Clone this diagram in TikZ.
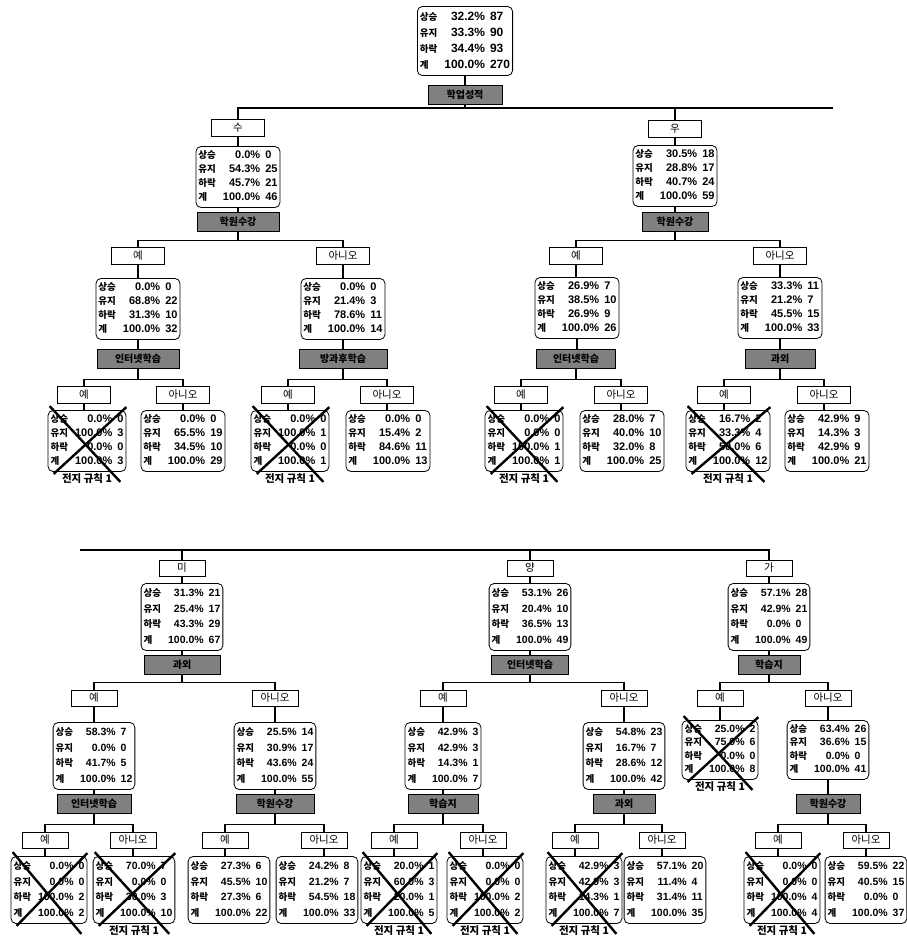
\documentclass[tikz,border=0pt]{standalone}
\usepackage{fontspec}
\setmainfont{Liberation Sans}
\newfontfamily\kr{Noto Sans CJK KR}
\usetikzlibrary{calc, positioning}

\newcommand{\kl}[1]{{\kr\fontsize{9.5}{10}\selectfont #1}}
\newcommand{\stats}[7]{%
  \begin{tabular}{@{}l@{\hspace{7pt}}r@{\hspace{5pt}}l@{}}
    \kl{상승} & #1\% & #2\\
    \kl{유지} & #3\% & #4\\
    \kl{하락} & #5\% & #6\\
    \kl{계} & 100.0\% & #7
  \end{tabular}}
% X over a pruned leaf
\newcommand{\crossleaf}[1]{%
  \draw[xl] ($(#1.north west)+(2,-4)$) -- ($(#1.south east)+(-6,10)$);
  \draw[xl] ($(#1.south west)+(6,2)$) -- ($(#1.north east)+(0,-3)$);}
% bus from a split node to its two children
\newcommand{\branch}[3]{%
  \draw[ln] (#2.north) -- ++(0,-7) coordinate (bus) -| (#3.north);
  \draw[ln] (#1.south) -- (#1.south |- bus);}
\newcommand{\link}[2]{\draw[ln] (#1.south) -- (#1.south |- #2.north);}

\begin{document}
\begin{tikzpicture}[x=1pt, y=-1pt,
  lab/.style={draw, line width=0.8pt, minimum width=53pt, minimum height=17pt, inner sep=0pt, font=\kr\fontsize{10.5}{12}\selectfont},
  stat/.style={draw, line width=0.8pt, rounded corners=5pt, inner sep=2.5pt, font=\fontsize{11}{14}\selectfont\bfseries},
  spl/.style={draw, line width=0.8pt, fill=black!50, text=black, minimum height=19pt, inner sep=0pt, font=\kr\fontsize{10}{12}\selectfont\bfseries},
  rule/.style={inner sep=0pt, font=\kr\fontsize{10.5}{12}\selectfont\bfseries},
  ln/.style={line width=1.1pt},
  xl/.style={line width=2.4pt}
]
  \fill[white] (0,0) rectangle (906,937);
  \useasboundingbox (0,0) rectangle (906,937);

  % ---------- upper half ----------
  \node[stat, font=\fontsize{12}{16}\selectfont\bfseries] (rn) at (465,41) {\stats{32.2}{87}{33.3}{90}{34.4}{93}{270}};
  \node[spl, minimum width=74pt] (rd) at (465,95) {학업성적};
  \link{rn}{rd}

  \node[lab] (Al) at (238,128) {수};
  \node[stat] (An) at (238,177) {\stats{0.0}{0}{54.3}{25}{45.7}{21}{46}};
  \node[spl, minimum width=82pt] (Ad) at (238,222) {학원수강};
  \node[lab] (Bl) at (675,129) {우};
  \node[stat] (Bn) at (675,176) {\stats{30.5}{18}{28.8}{17}{40.7}{24}{59}};
  \node[spl, minimum width=66pt] (Bd) at (675,222) {학원수강};
  \coordinate (rt) at (833,108);
  \draw[ln] (Al.north) |- (rt);
  \draw[ln] (Bl.north) -- (Bl.north |- rt);
  \draw[ln] (rd.south) -- (rd.south |- rt);
  \link{Al}{An} \link{An}{Ad} \link{Bl}{Bn} \link{Bn}{Bd}

  % under 수
  \node[lab] (AYl) at (138,256) {예};
  \node[stat] (AYn) at (138,309) {\stats{0.0}{0}{68.8}{22}{31.3}{10}{32}};
  \node[spl, minimum width=82pt] (AYd) at (138,359) {인터넷학습};
  \node[lab] (ANl) at (343,256) {아니오};
  \node[stat] (ANn) at (343,309) {\stats{0.0}{0}{21.4}{3}{78.6}{11}{14}};
  \node[spl, minimum width=88pt] (ANd) at (343,359) {방과후학습};
  \branch{Ad}{AYl}{ANl}
  \link{AYl}{AYn} \link{AYn}{AYd} \link{ANl}{ANn} \link{ANn}{ANd}

  \node[lab] (AYYl) at (84,395) {예};
  \node[stat] (AYYn) at (87,441) {\stats{0.0}{0}{100.0}{3}{0.0}{0}{3}};
  \node[lab] (AYNl) at (183,395) {아니오};
  \node[stat] (AYNn) at (183,441) {\stats{0.0}{0}{65.5}{19}{34.5}{10}{29}};
  \node[lab] (ANYl) at (288,395) {예};
  \node[stat] (ANYn) at (290,441) {\stats{0.0}{0}{100.0}{1}{0.0}{0}{1}};
  \node[lab] (ANNl) at (387,395) {아니오};
  \node[stat] (ANNn) at (388,441) {\stats{0.0}{0}{15.4}{2}{84.6}{11}{13}};
  \branch{AYd}{AYYl}{AYNl} \branch{ANd}{ANYl}{ANNl}
  \link{AYYl}{AYYn} \link{AYNl}{AYNn} \link{ANYl}{ANYn} \link{ANNl}{ANNn}
  \crossleaf{AYYn} \crossleaf{ANYn}
  \node[rule, below=2pt of AYYn] (AYYr) {전지 규칙 1};
  \node[rule, below=2pt of ANYn] (ANYr) {전지 규칙 1};

  % under 우
  \node[lab] (BYl) at (576,256) {예};
  \node[stat] (BYn) at (577,308) {\stats{26.9}{7}{38.5}{10}{26.9}{9}{26}};
  \node[spl, minimum width=79pt] (BYd) at (576,359) {인터넷학습};
  \node[lab] (BNl) at (780,256) {아니오};
  \node[stat] (BNn) at (780,308) {\stats{33.3}{11}{21.2}{7}{45.5}{15}{33}};
  \node[spl, minimum width=70pt] (BNd) at (780,359) {과외};
  \branch{Bd}{BYl}{BNl}
  \link{BYl}{BYn} \link{BYn}{BYd} \link{BNl}{BNn} \link{BNn}{BNd}

  \node[lab] (BYYl) at (521,395) {예};
  \node[stat] (BYYn) at (524,441) {\stats{0.0}{0}{0.0}{0}{100.0}{1}{1}};
  \node[lab] (BYNl) at (621,395) {아니오};
  \node[stat] (BYNn) at (622,441) {\stats{28.0}{7}{40.0}{10}{32.0}{8}{25}};
  \node[lab] (BNYl) at (724,395) {예};
  \node[stat] (BNYn) at (728,441) {\stats{16.7}{2}{33.3}{4}{50.0}{6}{12}};
  \node[lab] (BNNl) at (824,395) {아니오};
  \node[stat] (BNNn) at (827,441) {\stats{42.9}{9}{14.3}{3}{42.9}{9}{21}};
  \branch{BYd}{BYYl}{BYNl} \branch{BNd}{BNYl}{BNNl}
  \link{BYYl}{BYYn} \link{BYNl}{BYNn} \link{BNYl}{BNYn} \link{BNNl}{BNNn}
  \crossleaf{BYYn} \crossleaf{BNYn}
  \node[rule, below=2pt of BYYn] (BYYr) {전지 규칙 1};
  \node[rule, below=2pt of BNYn] (BNYr) {전지 규칙 1};

  % ---------- lower half ----------
  \begin{scope}[lab/.append style={minimum width=46pt, minimum height=16pt},
                stat/.append style={font=\fontsize{10.5}{15.5}\selectfont\bfseries}]
  \node[lab] (Cl) at (182,568) {미};
  \node[stat] (Cn) at (182,617) {\stats{31.3}{21}{25.4}{17}{43.3}{29}{67}};
  \node[spl, minimum width=76pt] (Cd) at (182,665) {과외};
  \node[lab] (Dl) at (530,568) {양};
  \node[stat] (Dn) at (530,617) {\stats{53.1}{26}{20.4}{10}{36.5}{13}{49}};
  \node[spl, minimum width=77pt] (Dd) at (530,665) {인터넷학습};
  \node[lab] (El) at (769,568) {가};
  \node[stat] (En) at (769,617) {\stats{57.1}{28}{42.9}{21}{0.0}{0}{49}};
  \node[spl, minimum width=62pt] (Ed) at (769,665) {학습지};
  \coordinate (lt) at (80,550);
  \draw[ln] (lt) -| (El.north);
  \draw[ln] (Cl.north) -- (Cl.north |- lt);
  \draw[ln] (Dl.north) -- (Dl.north |- lt);
  \link{Cl}{Cn} \link{Cn}{Cd} \link{Dl}{Dn} \link{Dn}{Dd} \link{El}{En} \link{En}{Ed}

  % under 미
  \node[lab] (CYl) at (94,698) {예};
  \node[stat] (CYn) at (94,756) {\stats{58.3}{7}{0.0}{0}{41.7}{5}{12}};
  \node[spl, minimum width=74pt] (CYd) at (94,804) {인터넷학습};
  \node[lab] (CNl) at (275,698) {아니오};
  \node[stat] (CNn) at (275,756) {\stats{25.5}{14}{30.9}{17}{43.6}{24}{55}};
  \node[spl, minimum width=78pt] (CNd) at (275,804) {학원수강};
  \branch{Cd}{CYl}{CNl}
  \link{CYl}{CYn} \link{CYn}{CYd} \link{CNl}{CNn} \link{CNn}{CNd}

  \node[lab] (CYYl) at (45,840) {예};
  \node[stat] (CYYn) at (49,890) {\stats{0.0}{0}{0.0}{0}{100.0}{2}{2}};
  \node[lab] (CYNl) at (133,840) {아니오};
  \node[stat] (CYNn) at (134,890) {\stats{70.0}{7}{0.0}{0}{30.0}{3}{10}};
  \node[lab] (CNYl) at (225,840) {예};
  \node[stat] (CNYn) at (229,890) {\stats{27.3}{6}{45.5}{10}{27.3}{6}{22}};
  \node[lab] (CNNl) at (324,840) {아니오};
  \node[stat] (CNNn) at (317,890) {\stats{24.2}{8}{21.2}{7}{54.5}{18}{33}};
  \branch{CYd}{CYYl}{CYNl} \branch{CNd}{CNYl}{CNNl}
  \link{CYYl}{CYYn} \link{CYNl}{CYNn} \link{CNYl}{CNYn} \link{CNNl}{CNNn}
  \crossleaf{CYYn} \crossleaf{CYNn}
  \node[rule, below=2pt of CYNn] (CYNr) {전지 규칙 1};

  % under 양
  \node[lab] (DYl) at (443,698) {예};
  \node[stat] (DYn) at (443,756) {\stats{42.9}{3}{42.9}{3}{14.3}{1}{7}};
  \node[spl, minimum width=70pt] (DYd) at (443,804) {학습지};
  \node[lab] (DNl) at (624,698) {아니오};
  \node[stat] (DNn) at (624,756) {\stats{54.8}{23}{16.7}{7}{28.6}{12}{42}};
  \node[spl, minimum width=62pt] (DNd) at (624,804) {과외};
  \branch{Dd}{DYl}{DNl}
  \link{DYl}{DYn} \link{DYn}{DYd} \link{DNl}{DNn} \link{DNn}{DNd}

  \node[lab] (DYYl) at (394,840) {예};
  \node[stat] (DYYn) at (399,890) {\stats{20.0}{1}{60.0}{3}{20.0}{1}{5}};
  \node[lab] (DYNl) at (483,840) {아니오};
  \node[stat] (DYNn) at (485,890) {\stats{0.0}{0}{0.0}{0}{100.0}{2}{2}};
  \node[lab] (DNYl) at (575,840) {예};
  \node[stat] (DNYn) at (584,890) {\stats{42.9}{3}{42.9}{3}{14.3}{1}{7}};
  \node[lab] (DNNl) at (662,840) {아니오};
  \node[stat] (DNNn) at (665,890) {\stats{57.1}{20}{11.4}{4}{31.4}{11}{35}};
  \branch{DYd}{DYYl}{DYNl} \branch{DNd}{DNYl}{DNNl}
  \link{DYYl}{DYYn} \link{DYNl}{DYNn} \link{DNYl}{DNYn} \link{DNNl}{DNNn}
  \crossleaf{DYYn} \crossleaf{DYNn} \crossleaf{DNYn}
  \node[rule, below=2pt of DYYn] (DYYr) {전지 규칙 1};
  \node[rule, below=2pt of DYNn] (DYNr) {전지 규칙 1};
  \node[rule, below=2pt of DNYn] (DNYr) {전지 규칙 1};

  % under 가
  \node[lab] (EYl) at (720,698) {예};
  \node[stat, font=\fontsize{10.5}{13.5}\selectfont\bfseries] (EYn) at (720,750) {\stats{25.0}{2}{75.0}{6}{0.0}{0}{8}};
  \node[lab] (ENl) at (828,698) {아니오};
  \node[stat, font=\fontsize{10.5}{13.5}\selectfont\bfseries] (ENn) at (828,750) {\stats{63.4}{26}{36.6}{15}{0.0}{0}{41}};
  \node[spl, minimum width=64pt] (ENd) at (828,804) {학원수강};
  \branch{Ed}{EYl}{ENl}
  \link{EYl}{EYn} \link{ENl}{ENn} \link{ENn}{ENd}
  \crossleaf{EYn}
  \node[rule, below=2pt of EYn] (EYr) {전지 규칙 1};

  \node[lab] (ENYl) at (778,840) {예};
  \node[stat] (ENYn) at (782,890) {\stats{0.0}{0}{0.0}{0}{100.0}{4}{4}};
  \node[lab] (ENNl) at (866,840) {아니오};
  \node[stat] (ENNn) at (866,890) {\stats{59.5}{22}{40.5}{15}{0.0}{0}{37}};
  \branch{ENd}{ENYl}{ENNl}
  \link{ENYl}{ENYn} \link{ENNl}{ENNn}
  \crossleaf{ENYn}
  \node[rule, below=2pt of ENYn] (ENYr) {전지 규칙 1};
  \end{scope}
\end{tikzpicture}
\end{document}
